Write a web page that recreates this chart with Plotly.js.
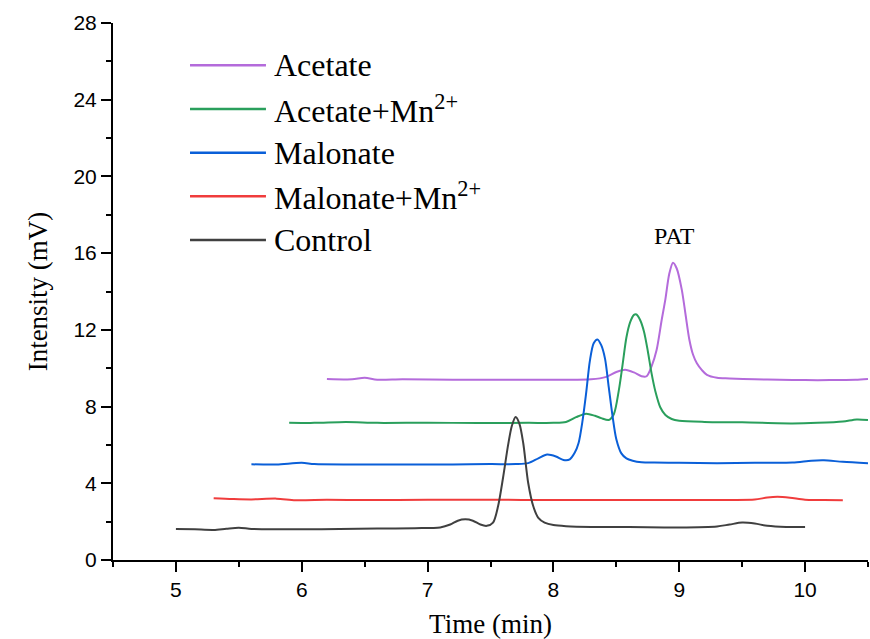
<!DOCTYPE html>
<html>
<head>
<meta charset="utf-8">
<script src="https://cdn.plot.ly/plotly-3.0.1.min.js"></script>
<style>html,body{margin:0;padding:0;background:#fff;}#chart{width:870px;height:639px;}</style>
</head>
<body>
<div id="chart"></div>
<script>
// Series names
const seriesNames = ["Acetate", "Acetate+Mn<sup>2+</sup>", "Malonate", "Malonate+Mn<sup>2+</sup>", "Control"];

// Acetate (purple)
const acetateX = [6.20,6.40,6.50,6.60,6.80,7.20,7.60,8.00,8.30,8.42,8.50,8.57,8.64,8.70,8.74,8.78,8.82,8.86,8.89,8.92,8.95,8.98,9.02,9.05,9.08,9.11,9.14,9.18,9.22,9.30,9.40,9.60,9.80,10.00,10.20,10.40,10.50];
const acetateY = [9.44,9.42,9.50,9.40,9.42,9.40,9.40,9.40,9.42,9.55,9.80,9.92,9.78,9.58,9.58,10.1,10.95,12.5,13.6,14.9,15.5,15.2,14.1,12.8,11.5,10.7,10.26,9.9,9.65,9.50,9.47,9.42,9.40,9.38,9.38,9.40,9.44];

// Acetate+Mn2+ (green)
const acetateMnX = [5.90,6.10,6.35,6.60,7.00,7.40,7.80,8.00,8.10,8.18,8.26,8.33,8.38,8.44,8.48,8.52,8.55,8.58,8.61,8.64,8.66,8.69,8.72,8.75,8.78,8.81,8.85,8.89,8.94,9.00,9.20,9.50,9.90,10.10,10.30,10.41,10.50];
const acetateMnY = [7.16,7.15,7.20,7.15,7.16,7.14,7.15,7.15,7.20,7.45,7.63,7.52,7.40,7.30,7.6,8.86,10.2,11.6,12.4,12.78,12.8,12.5,11.9,10.9,9.73,8.8,7.95,7.56,7.35,7.26,7.20,7.18,7.12,7.15,7.22,7.33,7.30];

// Malonate (blue)
const malonateX = [5.60,5.80,6.00,6.10,6.40,6.80,7.20,7.50,7.70,7.80,7.88,7.95,8.02,8.08,8.13,8.17,8.20,8.23,8.26,8.29,8.32,8.35,8.38,8.41,8.44,8.47,8.50,8.54,8.58,8.63,8.70,8.80,9.00,9.30,9.60,9.90,10.05,10.15,10.30,10.50];
const malonateY = [4.99,4.98,5.07,5.00,4.98,4.98,4.98,5.00,5.00,5.05,5.30,5.50,5.40,5.22,5.25,5.60,6.1,7.2,8.7,10.4,11.3,11.5,11.2,10.5,9.0,7.5,6.3,5.56,5.3,5.18,5.10,5.08,5.07,5.05,5.07,5.08,5.18,5.20,5.12,5.05];

// Malonate+Mn2+ (red)
const malonateMnX = [5.30,5.45,5.60,5.80,5.95,6.20,6.50,7.00,7.50,8.00,8.50,9.00,9.40,9.60,9.70,9.78,9.88,10.00,10.15,10.30];
const malonateMnY = [3.22,3.18,3.16,3.20,3.12,3.14,3.13,3.14,3.14,3.13,3.13,3.13,3.13,3.15,3.26,3.30,3.25,3.14,3.13,3.12];

// Control (dark grey)
const controlX = [5.00,5.15,5.30,5.40,5.50,5.60,5.80,6.00,6.30,6.60,6.90,7.10,7.18,7.24,7.30,7.36,7.42,7.47,7.52,7.56,7.60,7.64,7.67,7.70,7.73,7.76,7.80,7.84,7.88,7.93,8.00,8.10,8.30,8.60,9.00,9.30,9.40,9.50,9.60,9.70,9.85,10.00];
const controlY = [1.62,1.60,1.57,1.63,1.68,1.62,1.60,1.60,1.62,1.64,1.66,1.70,1.85,2.05,2.12,2.05,1.85,1.78,1.95,2.8,4.3,6.0,7.0,7.45,7.1,6.1,4.0,2.8,2.2,1.95,1.82,1.76,1.72,1.72,1.70,1.75,1.85,1.95,1.90,1.78,1.72,1.72];

const colors = ["#B46BDB", "#2A9F5C", "#0A5FD8", "#F03C3C", "#404040"];
const xs = [acetateX, acetateMnX, malonateX, malonateMnX, controlX];
const ys = [acetateY, acetateMnY, malonateY, malonateMnY, controlY];

const serif = "Liberation Serif";
const sans = "Liberation Sans";

const traces = seriesNames.map((n, i) => ({
  x: xs[i], y: ys[i], name: n, type: "scatter", mode: "lines", showlegend: false,
  line: {color: colors[i], width: 2, shape: "spline", smoothing: 0.8}
}));

// Legend drawn as paper-anchored key lines + text labels
const legendTop = 0.9212, legendStep = 0.0813;
const legendShapes = seriesNames.map((n, i) => ({
  type: "line", xref: "paper", yref: "paper",
  x0: 0.102, x1: 0.2026, y0: legendTop - i * legendStep, y1: legendTop - i * legendStep,
  line: {color: colors[i], width: 2.5}
}));
const legendLabels = seriesNames.map((n, i) => ({
  xref: "paper", yref: "paper", x: 0.211, y: legendTop - i * legendStep,
  xanchor: "left", yanchor: "middle", text: n, showarrow: false,
  font: {family: serif, size: 32, color: "#000"}
}));

const axisCommon = {
  showline: true, linecolor: "#000", linewidth: 2, mirror: false,
  showgrid: false, zeroline: false,
  ticks: "outside", ticklen: 10, tickwidth: 2, tickcolor: "#000",
  tickfont: {family: sans, size: 21, color: "#000"}
};

const layout = {
  width: 870, height: 639,
  margin: {l: 113, r: 2, t: 23, b: 79},
  paper_bgcolor: "#fff", plot_bgcolor: "#fff",
  showlegend: false,
  font: {family: serif, color: "#000"},
  xaxis: Object.assign({}, axisCommon, {
    range: [4.5, 10.5], dtick: 1, tick0: 0,
    minor: {ticks: "outside", ticklen: 5, tickwidth: 2, tickcolor: "#000", dtick: 0.5},
    title: {text: "Time (min)", font: {family: serif, size: 27, color: "#000"}, standoff: 15}
  }),
  yaxis: Object.assign({}, axisCommon, {
    range: [0, 28], dtick: 4, tick0: 0,
    minor: {ticks: "outside", ticklen: 5, tickwidth: 2, tickcolor: "#000", dtick: 2},
    title: {text: "Intensity (mV)", font: {family: serif, size: 27, color: "#000"}, standoff: 18}
  }),
  shapes: legendShapes,
  annotations: legendLabels.concat([{
    x: 8.96, y: 16.9, xref: "x", yref: "y", text: "PAT", showarrow: false,
    font: {family: serif, size: 24, color: "#000"}
  }])
};

Plotly.newPlot("chart", traces, layout, {displayModeBar: false, staticPlot: true});
</script>
</body>
</html>
